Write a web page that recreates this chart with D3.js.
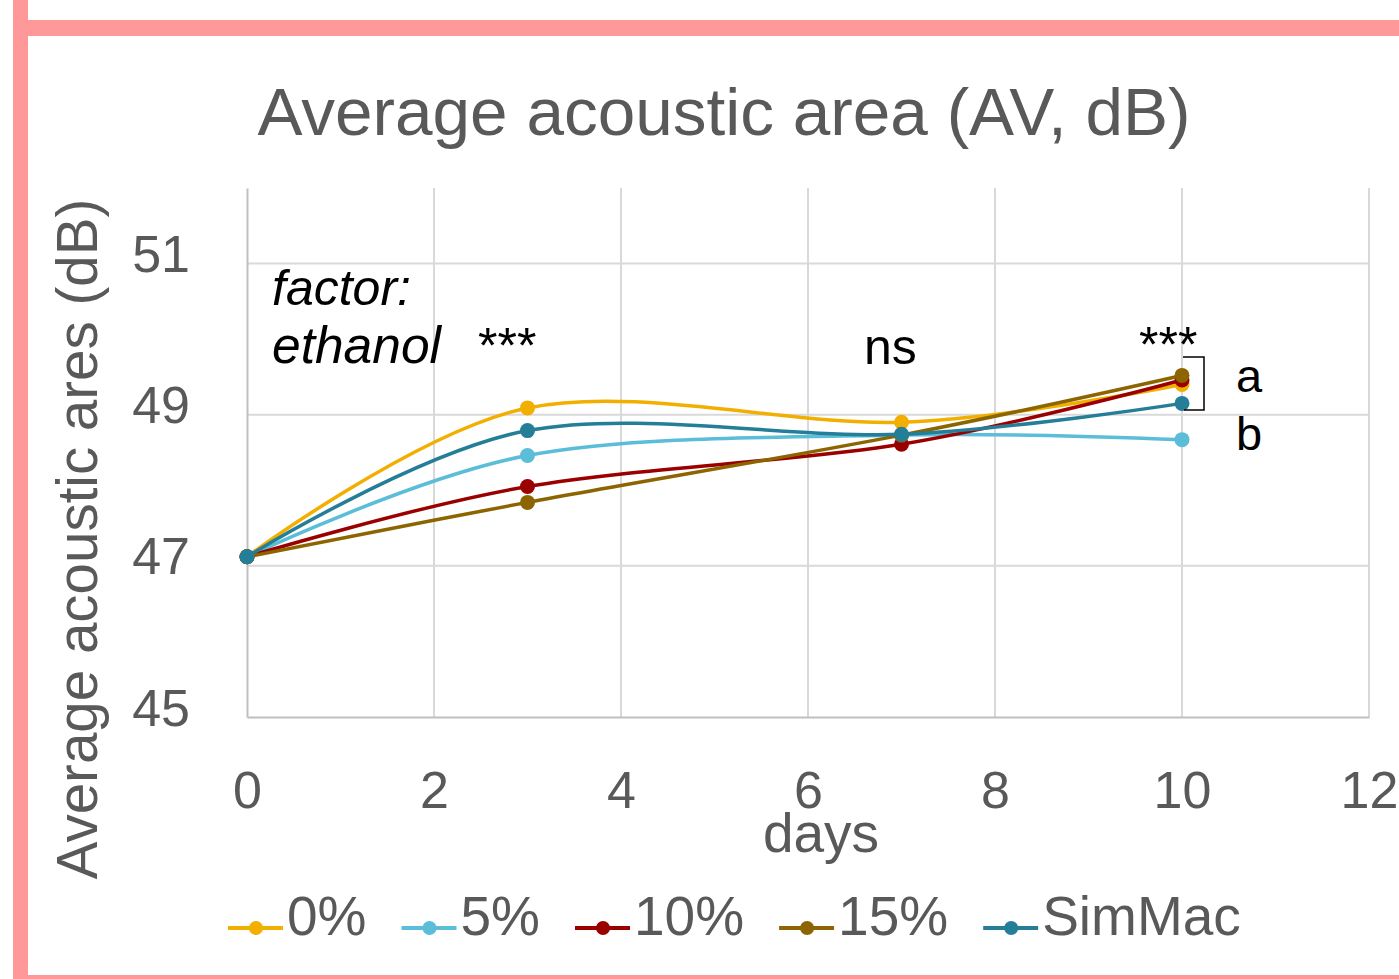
<!DOCTYPE html>
<html lang="en">
<head>
<meta charset="UTF-8">
<title>Average acoustic area (AV, dB)</title>
<script src="https://d3js.org/d3.v7.min.js"></script>
<style>
  body { margin: 0; background: #fff; }
  svg { display: block; font-family: "Liberation Sans", Arial, sans-serif; }
</style>
</head>
<body>
<div id="chart"></div>
<script>
// data
const days = [0, 3, 7, 10];
const seriesNames = ["0%", "5%", "10%", "15%", "SimMac"];
const v0 = [47.12, 49.09, 48.90, 49.40];
const v5 = [47.12, 48.46, 48.73, 48.67];
const v10 = [47.12, 48.05, 48.61, 49.46];
const v15 = [47.12, 47.84, 48.73, 49.52];
const vSim = [47.12, 48.79, 48.74, 49.15];
const xTicks = [0, 2, 4, 6, 8, 10, 12];
const yTicks = [45, 47, 49, 51];
const colors = ["#F2AF00", "#5BBDD7", "#9A0000", "#8C6400", "#257E97"];

const W = 1399, H = 979;
const margin = { top: 188, right: 30, bottom: 262, left: 247 };
const width = 1369 - margin.left;
const height = 717 - margin.top;

const allValues = [v0, v5, v10, v15, vSim];
const series = seriesNames.map((name, i) => ({
  name: name,
  color: colors[i],
  values: days.map((d, j) => ({ day: d, val: allValues[i][j] }))
}));

const svg = d3.select("#chart").append("svg")
  .attr("width", W)
  .attr("height", H);

// pink frame
svg.append("rect").attr("x", 13).attr("y", 0).attr("width", 15).attr("height", H).attr("fill", "#FF9999");
svg.append("rect").attr("x", 13).attr("y", 20).attr("width", W - 13).attr("height", 16).attr("fill", "#FF9999");
svg.append("rect").attr("x", 13).attr("y", 975).attr("width", W - 13).attr("height", 4).attr("fill", "#FF9999");

const g = svg.append("g")
  .attr("transform", `translate(${margin.left},${margin.top})`);

const x = d3.scaleLinear().domain([0, 12]).range([0, width]);
const y = d3.scaleLinear().domain([45, 52]).range([height, 0]);

// gridlines
g.append("g")
  .selectAll("line")
  .data(yTicks.slice(1))
  .join("line")
  .attr("x1", 0).attr("x2", width)
  .attr("y1", d => y(d)).attr("y2", d => y(d))
  .attr("stroke", "#D9D9D9").attr("stroke-width", 2);

g.append("g")
  .selectAll("line")
  .data(xTicks.slice(1))
  .join("line")
  .attr("x1", d => x(d)).attr("x2", d => x(d))
  .attr("y1", 0).attr("y2", height)
  .attr("stroke", "#D9D9D9").attr("stroke-width", 2);

// axes
const xAxis = g.append("g")
  .attr("transform", `translate(0,${height})`)
  .call(d3.axisBottom(x).tickValues(xTicks).tickFormat(d3.format("d")).tickSize(0).tickPadding(0));
xAxis.select(".domain").attr("stroke", "#BFBFBF").attr("stroke-width", 2);
xAxis.selectAll("text")
  .attr("dy", null)
  .attr("y", 91)
  .attr("fill", "#595959")
  .style("font-size", "52px")
  .style("font-family", "Liberation Sans, Arial, sans-serif");

const yAxis = g.append("g")
  .call(d3.axisLeft(y).tickValues(yTicks).tickFormat(d3.format("d")).tickSize(0).tickPadding(0));
yAxis.select(".domain").attr("stroke", "#BFBFBF").attr("stroke-width", 2);
yAxis.selectAll("text")
  .attr("dy", null)
  .attr("x", -57)
  .attr("y", 8)
  .attr("fill", "#595959")
  .style("font-size", "52px")
  .style("font-family", "Liberation Sans, Arial, sans-serif");

// lines (Excel smoothed)
const line = d3.line()
  .x(d => x(d.day))
  .y(d => y(d.val))
  .curve(d3.curveCardinal.tension(0));

series.forEach(s => {
  g.append("path")
    .datum(s.values)
    .attr("fill", "none")
    .attr("stroke", s.color)
    .attr("stroke-width", 3.5)
    .attr("stroke-linecap", "round")
    .attr("d", line);
  g.selectAll(null)
    .data(s.values)
    .join("circle")
    .attr("cx", d => x(d.day))
    .attr("cy", d => y(d.val))
    .attr("r", 7.5)
    .attr("fill", s.color);
});

// titles
svg.append("text")
  .attr("x", 724).attr("y", 135)
  .attr("text-anchor", "middle")
  .attr("fill", "#595959")
  .style("font-size", "67.5px")
  .text("Average acoustic area (AV, dB)");

svg.append("text")
  .attr("x", 821).attr("y", 852)
  .attr("text-anchor", "middle")
  .attr("fill", "#595959")
  .style("font-size", "55px")
  .text("days");

svg.append("text")
  .attr("transform", "translate(97,539) rotate(-90)")
  .attr("text-anchor", "middle")
  .attr("fill", "#595959")
  .style("font-size", "56.5px")
  .text("Average acoustic ares (dB)");

// annotations
const ann = svg.append("g").attr("fill", "#000").style("font-size", "50px");
ann.append("text").attr("x", 272).attr("y", 305).style("font-style", "italic").text("factor:");
ann.append("text").attr("x", 272).attr("y", 363).style("font-style", "italic").style("font-size", "51.5px").text("ethanol");
ann.append("text").attr("x", 478).attr("y", 363).text("***");
ann.append("text").attr("x", 864).attr("y", 364).text("ns");
ann.append("text").attr("x", 1139).attr("y", 362).text("***");
ann.append("text").attr("x", 1236).attr("y", 392).style("font-size", "47px").text("a");
ann.append("text").attr("x", 1236).attr("y", 450).style("font-size", "47px").text("b");
svg.append("path")
  .attr("d", "M1183,357 H1204 V410 H1184")
  .attr("fill", "none")
  .attr("stroke", "#000")
  .attr("stroke-width", 1.5);

// legend
const legend = svg.append("g").attr("transform", "translate(0,928)");
let lx = 228;
series.forEach(s => {
  const item = legend.append("g").attr("transform", `translate(${lx},0)`);
  item.append("line")
    .attr("x1", 0).attr("x2", 55)
    .attr("stroke", s.color).attr("stroke-width", 4);
  item.append("circle").attr("cx", 28).attr("r", 7).attr("fill", s.color);
  const t = item.append("text")
    .attr("x", 59).attr("y", 7)
    .attr("fill", "#595959")
    .style("font-size", "55px")
    .text(s.name);
  lx += 59 + t.node().getComputedTextLength() + 35;
});
</script>
</body>
</html>
